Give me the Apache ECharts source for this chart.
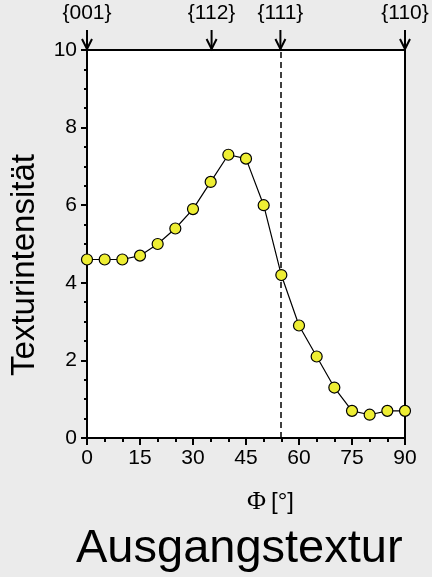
<!DOCTYPE html>
<html>
<head>
<meta charset="utf-8">
<script src="https://cdn.jsdelivr.net/npm/echarts@6/dist/echarts.min.js"></script>
<style>
  html, body { margin: 0; padding: 0; background: #ebebeb; }
  #main { width: 432px; height: 577px; }
</style>
</head>
<body>
<div id="main"></div>
<script>
// Winkel Phi [°] und Texturintensität
var phi = [0, 5, 10, 15, 20, 25, 30, 35, 40, 45, 50, 55, 60, 65, 70, 75, 80, 85, 90];
var intensity = [4.6, 4.6, 4.6, 4.7, 5.0, 5.4, 5.9, 6.6, 7.3, 7.2, 6.0, 4.2, 2.9, 2.1, 1.3, 0.7, 0.6, 0.7, 0.7];

// Kristallrichtungen oben (Pfeile)
var planeAngles = [0, 35.26, 54.74, 90];
var planeLabels = ['{001}', '{112}', '{111}', '{110}'];

var xTicks = [0, 15, 30, 45, 60, 75, 90];
var yTicks = [0, 2, 4, 6, 8, 10];

window.onload = function () {
    var font = '"Liberation Sans", Arial, sans-serif';
    var chart = echarts.init(document.getElementById('main'));

    var lineData = phi.map(function (p, i) { return [p, intensity[i]]; });
    var arrowData = planeAngles.map(function (a) { return [a, yTicks[yTicks.length - 1]]; });

    var option = {
        backgroundColor: '#ebebeb',
        animation: false,
        grid: {
            left: 87, right: 27, top: 50, bottom: 139,
            show: true,
            backgroundColor: '#ffffff',
            borderColor: '#000',
            borderWidth: 2
        },
        title: [{
            text: 'Ausgangstextur',
            left: 71, top: 521,
            textStyle: { fontFamily: font, fontSize: 47, fontWeight: 'normal', color: '#000' }
        }, {
            text: '{a|Φ} {b|[°]}',
            left: 242, top: 484,
            textStyle: {
                fontWeight: 'normal',
                rich: {
                    a: { fontFamily: '"Liberation Serif", "Times New Roman", serif', fontSize: 26, fontWeight: 'normal', color: '#000' },
                    b: { fontFamily: font, fontSize: 24, fontWeight: 'normal', color: '#000' }
                }
            }
        }],
        graphic: [{
            type: 'text',
            x: 25, y: 265,
            rotation: Math.PI / 2,
            style: {
                text: 'Texturintensität',
                font: '33px "Liberation Sans", Arial, sans-serif',
                fill: '#000',
                textAlign: 'center', textVerticalAlign: 'middle'
            }
        }],
        xAxis: {
            type: 'value',
            min: xTicks[0], max: xTicks[xTicks.length - 1], interval: 15,
            axisLine: { show: true, onZero: false, lineStyle: { color: '#000', width: 2 } },
            axisTick: { show: true, length: 7, lineStyle: { color: '#000', width: 2 } },
            minorTick: { show: true, splitNumber: 3, length: 4, lineStyle: { color: '#000', width: 2 } },
            splitLine: { show: false },
            axisLabel: { fontFamily: font, fontSize: 21, color: '#000', margin: 10 }
        },
        yAxis: {
            type: 'value',
            min: yTicks[0], max: yTicks[yTicks.length - 1], interval: 2,
            axisLine: { show: true, lineStyle: { color: '#000', width: 2 } },
            axisTick: { show: true, length: 6, lineStyle: { color: '#000', width: 2 } },
            minorTick: { show: true, splitNumber: 4, length: 3, lineStyle: { color: '#000', width: 2 } },
            splitLine: { show: false },
            axisLabel: { fontFamily: font, fontSize: 21, color: '#000', margin: 10 }
        },
        series: [{
            type: 'line',
            data: lineData,
            symbol: 'circle',
            symbolSize: 11,
            lineStyle: { color: '#000', width: 1.2 },
            itemStyle: { color: '#eeee33', borderColor: '#000', borderWidth: 1.2 },
            z: 5,
            markLine: {
                silent: true,
                symbol: 'none',
                label: { show: false },
                lineStyle: { color: '#000', width: 1.5, type: [6, 4] },
                data: [{ xAxis: planeAngles[2] }]
            }
        }, {
            // Pfeile oberhalb des Diagramms
            type: 'custom',
            data: arrowData,
            clip: false,
            silent: true,
            renderItem: function (params, api) {
                var p = api.coord([api.value(0), api.value(1)]);
                var x = p[0], y = p[1];
                return {
                    type: 'group',
                    children: [{
                        type: 'line',
                        shape: { x1: x, y1: y - 20, x2: x, y2: y - 1 },
                        style: { stroke: '#000', lineWidth: 2 }
                    }, {
                        type: 'polyline',
                        shape: { points: [[x - 5, y - 11], [x, y - 1], [x + 5, y - 11]] },
                        style: { stroke: '#000', lineWidth: 2, fill: null }
                    }]
                };
            }
        }, {
            // Beschriftung der Pfeile
            type: 'scatter',
            data: arrowData,
            symbolSize: 0,
            itemStyle: { color: '#000', opacity: 1 },
            silent: true,
            clip: false,
            z: 10,
            label: {
                show: true,
                position: 'top',
                distance: 26,
                formatter: function (p) { return planeLabels[p.dataIndex]; },
                fontFamily: font, fontSize: 21, color: '#000', opacity: 1
            }
        }]
    };
    chart.setOption(option);
};
</script>
</body>
</html>
